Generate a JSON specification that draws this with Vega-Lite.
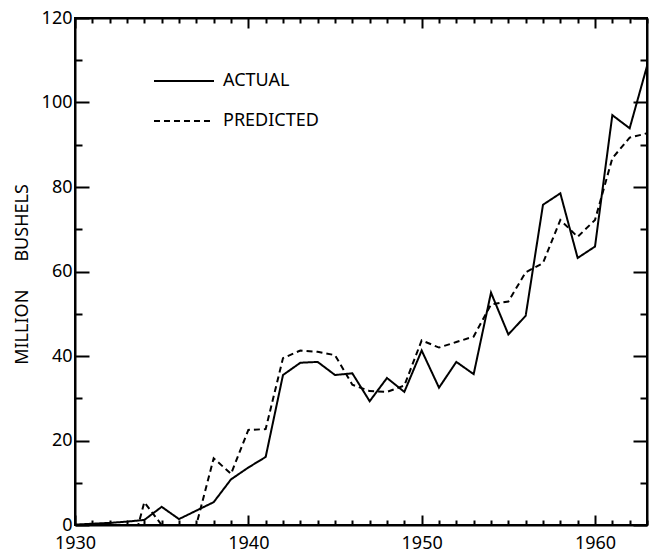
{
  "$schema": "https://vega.github.io/schema/vega-lite/v6.json",
  "width": 572,
  "height": 507,
  "autosize": "none",
  "padding": {"left": 75, "top": 18, "right": 6, "bottom": 29},
  "background": "white",
  "config": {
    "view": {"stroke": "black", "strokeWidth": 2},
    "axis": {"grid": false, "domainColor": "black", "domainWidth": 2, "tickColor": "black", "tickWidth": 2, "labelColor": "black", "labelFont": "Noto Sans", "labelFontSize": 18, "titleFont": "Noto Sans", "titleColor": "black", "labelOverlap": false, "labelFlush": false, "labelBound": false}
  },
  "data": {"values": [
    {"year": 1930, "series": "ACTUAL", "value": 0.1},
    {"year": 1931, "series": "ACTUAL", "value": 0.3},
    {"year": 1932, "series": "ACTUAL", "value": 0.5},
    {"year": 1933, "series": "ACTUAL", "value": 0.8},
    {"year": 1934, "series": "ACTUAL", "value": 1.2},
    {"year": 1935, "series": "ACTUAL", "value": 4.3},
    {"year": 1936, "series": "ACTUAL", "value": 1.4},
    {"year": 1937, "series": "ACTUAL", "value": 3.4},
    {"year": 1938, "series": "ACTUAL", "value": 5.4},
    {"year": 1939, "series": "ACTUAL", "value": 10.8},
    {"year": 1940, "series": "ACTUAL", "value": 13.6},
    {"year": 1941, "series": "ACTUAL", "value": 16.1},
    {"year": 1942, "series": "ACTUAL", "value": 35.5},
    {"year": 1943, "series": "ACTUAL", "value": 38.4},
    {"year": 1944, "series": "ACTUAL", "value": 38.6},
    {"year": 1945, "series": "ACTUAL", "value": 35.5},
    {"year": 1946, "series": "ACTUAL", "value": 35.9},
    {"year": 1947, "series": "ACTUAL", "value": 29.3},
    {"year": 1948, "series": "ACTUAL", "value": 34.8},
    {"year": 1949, "series": "ACTUAL", "value": 31.5},
    {"year": 1950, "series": "ACTUAL", "value": 41.3},
    {"year": 1951, "series": "ACTUAL", "value": 32.5},
    {"year": 1952, "series": "ACTUAL", "value": 38.6},
    {"year": 1953, "series": "ACTUAL", "value": 35.7},
    {"year": 1954, "series": "ACTUAL", "value": 55.0},
    {"year": 1955, "series": "ACTUAL", "value": 45.1},
    {"year": 1956, "series": "ACTUAL", "value": 49.5},
    {"year": 1957, "series": "ACTUAL", "value": 75.8},
    {"year": 1958, "series": "ACTUAL", "value": 78.5},
    {"year": 1959, "series": "ACTUAL", "value": 63.2},
    {"year": 1960, "series": "ACTUAL", "value": 65.9},
    {"year": 1961, "series": "ACTUAL", "value": 97.0},
    {"year": 1962, "series": "ACTUAL", "value": 93.9},
    {"year": 1963, "series": "ACTUAL", "value": 108.6},
    {"year": 1930, "series": "PREDICTED", "value": 0},
    {"year": 1931, "series": "PREDICTED", "value": 0},
    {"year": 1932, "series": "PREDICTED", "value": 0},
    {"year": 1933, "series": "PREDICTED", "value": -10},
    {"year": 1934, "series": "PREDICTED", "value": 5.4},
    {"year": 1935, "series": "PREDICTED", "value": 0},
    {"year": 1936, "series": "PREDICTED", "value": -2},
    {"year": 1937, "series": "PREDICTED", "value": 0},
    {"year": 1938, "series": "PREDICTED", "value": 15.8},
    {"year": 1939, "series": "PREDICTED", "value": 12.1},
    {"year": 1940, "series": "PREDICTED", "value": 22.5},
    {"year": 1941, "series": "PREDICTED", "value": 22.7},
    {"year": 1942, "series": "PREDICTED", "value": 39.5},
    {"year": 1943, "series": "PREDICTED", "value": 41.3},
    {"year": 1944, "series": "PREDICTED", "value": 41.0},
    {"year": 1945, "series": "PREDICTED", "value": 40.2},
    {"year": 1946, "series": "PREDICTED", "value": 33.2},
    {"year": 1947, "series": "PREDICTED", "value": 31.7},
    {"year": 1948, "series": "PREDICTED", "value": 31.5},
    {"year": 1949, "series": "PREDICTED", "value": 33.0},
    {"year": 1950, "series": "PREDICTED", "value": 43.7},
    {"year": 1951, "series": "PREDICTED", "value": 42.0},
    {"year": 1952, "series": "PREDICTED", "value": 43.3},
    {"year": 1953, "series": "PREDICTED", "value": 44.6},
    {"year": 1954, "series": "PREDICTED", "value": 52.2},
    {"year": 1955, "series": "PREDICTED", "value": 52.9},
    {"year": 1956, "series": "PREDICTED", "value": 59.8},
    {"year": 1957, "series": "PREDICTED", "value": 62.0},
    {"year": 1958, "series": "PREDICTED", "value": 72.2},
    {"year": 1959, "series": "PREDICTED", "value": 68.2},
    {"year": 1960, "series": "PREDICTED", "value": 72.2},
    {"year": 1961, "series": "PREDICTED", "value": 86.8},
    {"year": 1962, "series": "PREDICTED", "value": 91.7},
    {"year": 1963, "series": "PREDICTED", "value": 92.7}
  ]},
  "layer": [
    {
      "mark": {"type": "line", "color": "black", "strokeWidth": 2, "clip": true},
      "encoding": {
        "x": {"field": "year", "type": "quantitative",
          "scale": {"domain": [1930, 1963], "nice": false, "zero": false},
          "axis": {"orient": "bottom", "title": null,
            "values": [1930,1931,1932,1933,1934,1935,1936,1937,1938,1939,1940,1941,1942,1943,1944,1945,1946,1947,1948,1949,1950,1951,1952,1953,1954,1955,1956,1957,1958,1959,1960,1961,1962,1963],
            "labelExpr": "datum.value % 10 === 0 ? datum.value : ''",
            "tickSize": {"condition": {"test": "datum.value % 10 === 0", "value": -10}, "value": -5},
            "labelPadding": 19}},
        "y": {"field": "value", "type": "quantitative",
          "scale": {"domain": [0, 120], "nice": false, "zero": false},
          "axis": {"orient": "left", "title": "MILLION\u00a0\u00a0\u00a0\u00a0\u00a0\u00a0BUSHELS",
            "titleFontSize": 18, "titleFontWeight": "normal", "titleX": -53, "titleY": 256, "titleAngle": -90, "titleAlign": "center", "titleBaseline": "middle",
            "values": [0,10,20,30,40,50,60,70,80,90,100,110,120],
            "labelExpr": "datum.value % 20 === 0 ? datum.value : ''",
            "tickSize": {"condition": {"test": "datum.value % 20 === 0", "value": -14}, "value": -7},
            "labelPadding": 17}},
        "strokeDash": {"field": "series", "type": "nominal",
          "scale": {"domain": ["ACTUAL", "PREDICTED"], "range": [[1, 0], [6, 4]]},
          "legend": {"orient": "none", "legendX": 78, "legendY": 32, "title": null, "symbolType": "stroke", "symbolSize": 3600, "symbolStrokeWidth": 2, "symbolStrokeColor": "black", "labelFont": "Noto Sans", "labelFontSize": 18, "labelColor": "black", "labelOffset": 8, "rowPadding": -25}}
      }
    },
    {
      "mark": {"type": "line", "opacity": 0},
      "encoding": {
        "x": {"field": "year", "type": "quantitative",
          "axis": {"orient": "top", "title": null, "labels": false,
            "values": [1930,1931,1932,1933,1934,1935,1936,1937,1938,1939,1940,1941,1942,1943,1944,1945,1946,1947,1948,1949,1950,1951,1952,1953,1954,1955,1956,1957,1958,1959,1960,1961,1962,1963],
            "tickSize": {"condition": {"test": "datum.value % 10 === 0", "value": -10}, "value": -5}}},
        "y": {"field": "value", "type": "quantitative",
          "axis": {"orient": "right", "title": null, "labels": false,
            "values": [0,10,20,30,40,50,60,70,80,90,100,110,120],
            "tickSize": {"condition": {"test": "datum.value % 20 === 0", "value": -14}, "value": -7}}},
        "detail": {"field": "series", "type": "nominal"}
      }
    }
  ],
  "resolve": {"axis": {"x": "independent", "y": "independent"}}
}
